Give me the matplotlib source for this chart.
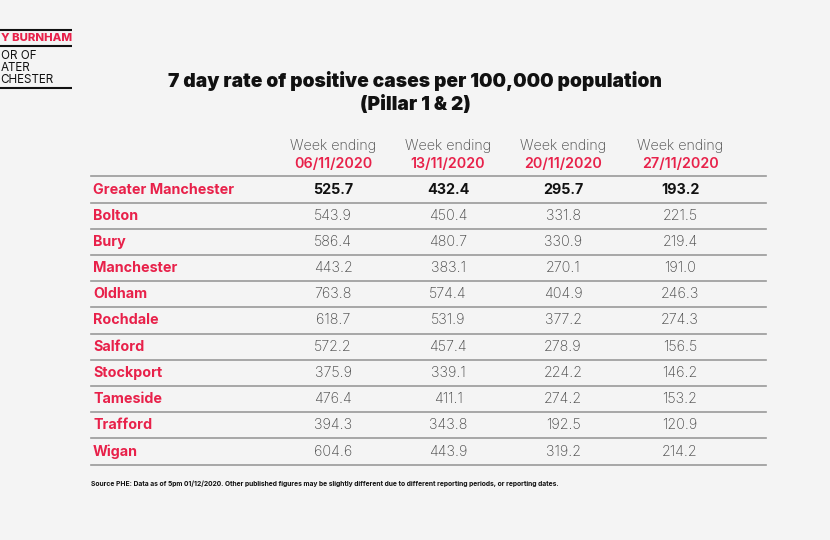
import matplotlib
matplotlib.use("Agg")
import matplotlib.pyplot as plt

areas = ["Greater Manchester", "Bolton", "Bury", "Manchester", "Oldham", "Rochdale",
         "Salford", "Stockport", "Tameside", "Trafford", "Wigan"]
weeks = ["06/11/2020", "13/11/2020", "20/11/2020", "27/11/2020"]
w1 = [525.7, 543.9, 586.4, 443.2, 763.8, 618.7, 572.2, 375.9, 476.4, 394.3, 604.6]
w2 = [432.4, 450.4, 480.7, 383.1, 574.4, 531.9, 457.4, 339.1, 411.1, 343.8, 443.9]
w3 = [295.7, 331.8, 330.9, 270.1, 404.9, 377.2, 278.9, 224.2, 274.2, 192.5, 319.2]
w4 = [193.2, 221.5, 219.4, 191.0, 246.3, 274.3, 156.5, 146.2, 153.2, 120.9, 214.2]
title = "7 day rate of positive cases per 100,000 population\n(Pillar 1 & 2)"
source = ("Source PHE: Data as of 5pm 01/12/2020. Other published figures may be slightly "
          "different due to different reporting periods, or reporting dates.")
logo_red = "Y BURNHAM"
logo_black = ["OR OF", "ATER", "CHESTER"]

RED = "#e8214a"
BG = "#f4f4f4"
FONT = ["Inter", "DejaVu Sans"]

fig = plt.figure(figsize=(8.3, 5.4), dpi=100, facecolor=BG)
ax = fig.add_axes([0, 0, 1, 1])
ax.set_xlim(0, 830)
ax.set_ylim(540, 0)
ax.axis("off")
ax.set_facecolor(BG)

# logo (visible part of the cropped logo)
for y in (30, 46, 88):
    ax.plot([0, 72], [y, y], color="#111111", lw=1.5, solid_capstyle="butt")
ax.text(0.5, 38, logo_red, color=RED, fontsize=8.2, fontweight="heavy",
        family=FONT, va="center", ha="left")
for y, t in zip((56, 68, 80), logo_black):
    ax.text(0.5, y, t, color="#111111", fontsize=8.4, family=FONT, va="center", ha="left")

# title
ax.text(415, 92.5, title, ha="center", va="center", fontsize=13.8, fontweight="black",
        family=FONT, color="#111111", linespacing=1.3)

# table
x_left, x_right = 91, 766
col_x = [333, 448, 563, 680]
row0 = 189.5
dy = 26.2
series = [w1, w2, w3, w4]

for cx, wk in zip(col_x, weeks):
    ax.text(cx, 146, "Week ending", ha="center", va="center", fontsize=10.3,
            family=FONT, fontweight="light", color="#444444")
    ax.text(cx, 163.5, wk, ha="center", va="center", fontsize=10.3,
            family=FONT, fontweight="semibold", color=RED)

ax.plot([x_left, x_right], [row0 - dy / 2, row0 - dy / 2], color="#999999", lw=1.2)
for i, area in enumerate(areas):
    y = row0 + i * dy
    ax.text(93, y, area, ha="left", va="center", fontsize=10.3, fontweight="bold",
            family=FONT, color=RED)
    for cx, s in zip(col_x, series):
        if i == 0:
            ax.text(cx, y, f"{s[i]:.1f}", ha="center", va="center", fontsize=10.3,
                    fontweight="bold", family=FONT, color="#111111")
        else:
            ax.text(cx, y, f"{s[i]:.1f}", ha="center", va="center", fontsize=10.3,
                    fontweight="light", family=FONT, color="#444444")
    ax.plot([x_left, x_right], [y + dy / 2, y + dy / 2], color="#999999", lw=1.2)

ax.text(91, 484, source, ha="left", va="center", fontsize=4.85, fontweight="bold",
        family=FONT, color="#111111")

fig.savefig("out.png", dpi=100, facecolor=BG)
